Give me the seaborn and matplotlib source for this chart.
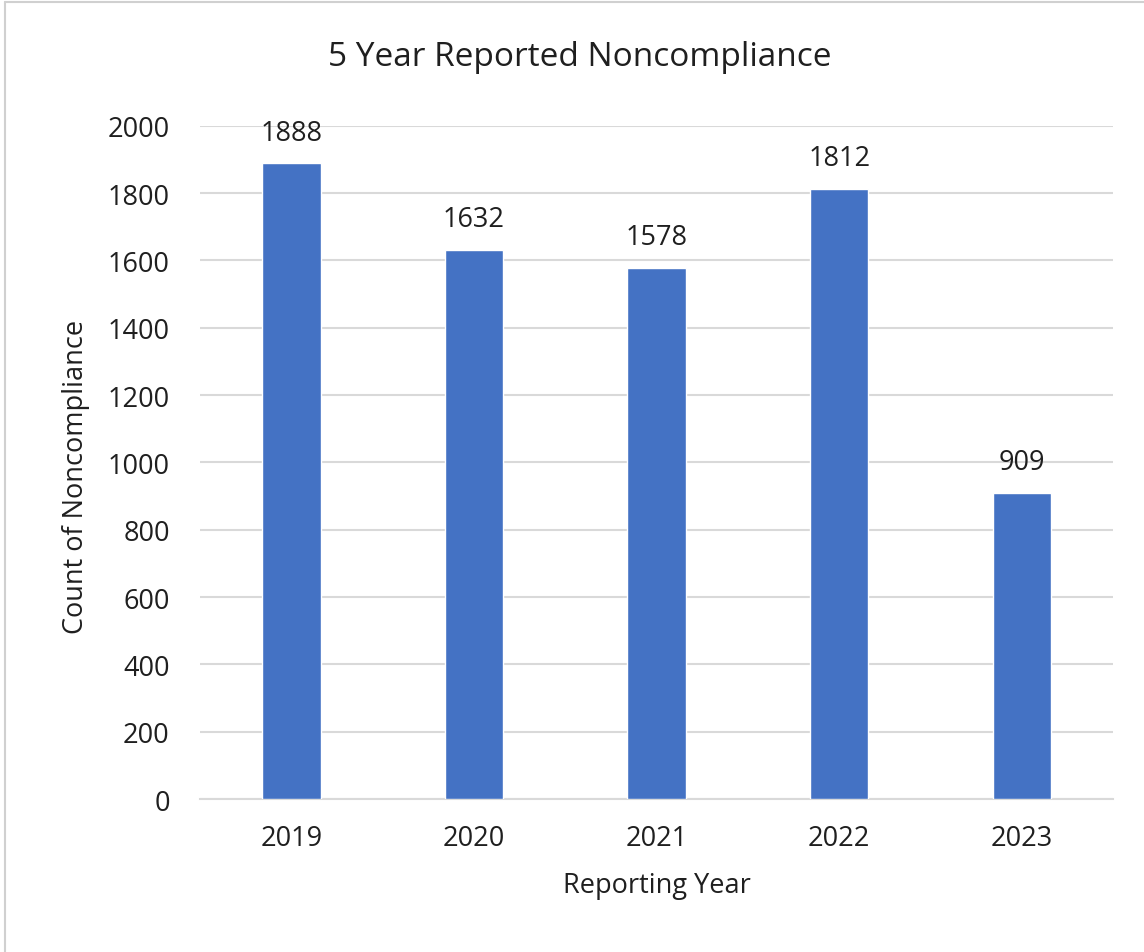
import matplotlib
matplotlib.use('Agg')
import matplotlib.pyplot as plt
import seaborn as sns
import pandas as pd
from matplotlib.lines import Line2D

years = ['2019', '2020', '2021', '2022', '2023']
counts = [1888, 1632, 1578, 1812, 909]
y_ticks = [0, 200, 400, 600, 800, 1000, 1200, 1400, 1600, 1800, 2000]

sns.set_theme(style='white')
plt.rcParams['font.family'] = ['Open Sans', 'DejaVu Sans']

df = pd.DataFrame({'year': years, 'count': counts})
txt = '#1f1f1f'

fig = plt.figure(figsize=(11.44, 9.53), dpi=100)
ax = fig.add_axes([0.175, 0.1605, 0.798, 0.7065])

sns.barplot(data=df, x='year', y='count', color='#4472C4', width=0.32,
            saturation=1, ax=ax, zorder=3)

for i, v in enumerate(counts):
    ax.annotate(str(v), (i, v), xytext=(0, 12), textcoords='offset points',
                ha='center', va='bottom', fontsize=19.5, color=txt)

ax.set_xlim(-0.5, 4.5)
ax.set_ylim(0, 2000)
ax.set_yticks(y_ticks)
ax.yaxis.grid(True, color='#d9d9d9', linewidth=1.5, zorder=0)
for s in ['left', 'right', 'top']:
    ax.spines[s].set_visible(False)
ax.spines['bottom'].set_color('#d9d9d9')
ax.spines['bottom'].set_linewidth(1.5)
ax.tick_params(axis='y', labelsize=19.5, colors=txt, length=0, pad=22)
ax.tick_params(axis='x', labelsize=19.5, colors=txt, length=0, pad=18)
ax.set_xlabel('Reporting Year', fontsize=19.5, color=txt, labelpad=14)
ax.set_ylabel('')
fig.text(0.066, 0.5, 'Count of Noncompliance', rotation=90, ha='center', va='center',
         fontsize=19.5, color=txt)
fig.text(0.507, 0.94, '5 Year Reported Noncompliance', ha='center', va='center',
         fontsize=24, color=txt)

# light frame, only left and top edges visible as in the source
fig.lines.append(Line2D([0.0045, 0.0045], [0, 0.997], transform=fig.transFigure,
                        color='#d0d0d0', linewidth=1.5))
fig.lines.append(Line2D([0.0045, 1], [0.997, 0.997], transform=fig.transFigure,
                        color='#d0d0d0', linewidth=1.5))

fig.savefig('out.png', dpi=100, facecolor='white')
